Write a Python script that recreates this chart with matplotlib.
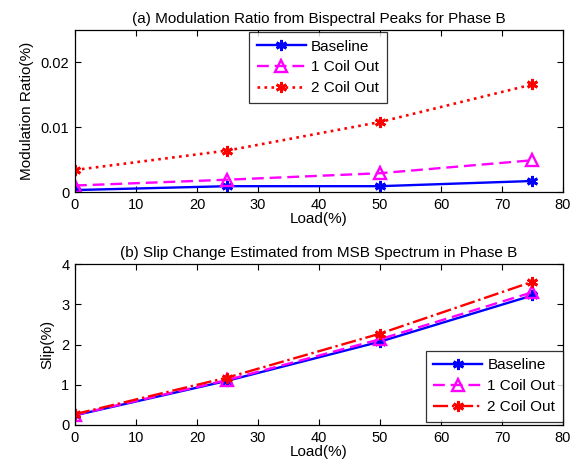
import matplotlib
matplotlib.use("Agg")
import matplotlib.pyplot as plt
from matplotlib.ticker import MultipleLocator

plt.rcParams['font.family'] = ['Liberation Sans', 'DejaVu Sans']

load = [0, 25, 50, 75]
labels = ['Baseline', '1 Coil Out', '2 Coil Out']

mod_baseline = [0.0003, 0.0009, 0.0009, 0.0017]
mod_1coil = [0.0010, 0.0019, 0.0029, 0.0049]
mod_2coil = [0.0034, 0.0064, 0.0108, 0.0166]

slip_baseline = [0.24, 1.10, 2.07, 3.22]
slip_1coil = [0.25, 1.12, 2.13, 3.30]
slip_2coil = [0.27, 1.18, 2.27, 3.56]

fig = plt.figure(figsize=(5.83, 4.72), dpi=100)
ax1 = fig.add_axes([0.1286, 0.5932, 0.837, 0.3432])
ax2 = fig.add_axes([0.1286, 0.0996, 0.837, 0.341])

star = (6, 2, 0)
tfs = 10.5
lfs = 11

def style(ax):
    ax.tick_params(direction='in', top=True, right=True, labelsize=tfs, length=4, width=0.8, pad=4)
    for s in ax.spines.values():
        s.set_linewidth(0.9)
    ax.set_xlim(0, 80)
    ax.xaxis.set_major_locator(MultipleLocator(10))

legkw = dict(fontsize=lfs, frameon=True, fancybox=False, edgecolor='black',
             handlelength=3.2, borderpad=0.5, labelspacing=0.45, handletextpad=0.35)

# Panel a
ax1.plot(load, mod_baseline, color='blue', ls='-', lw=1.7, marker=star, ms=8, mew=2, label=labels[0])
ax1.plot(load, mod_1coil, color='magenta', ls=(0, (5, 2.5)), lw=1.7, marker='^', ms=9, mfc='none', mew=1.7, label=labels[1])
ax1.plot(load, mod_2coil, color='red', ls=':', lw=1.9, marker=star, ms=8, mew=2, label=labels[2])
style(ax1)
ax1.set_ylim(0, 0.025)
ax1.set_yticks([0, 0.01, 0.02])
ax1.set_yticklabels(['0', '0.01', '0.02'])
ax1.set_title('(a) Modulation Ratio from Bispectral Peaks for Phase B', fontsize=lfs, pad=5)
ax1.set_xlabel('Load(%)', fontsize=lfs, labelpad=0)
ax1.set_ylabel('Modulation Ratio(%)', fontsize=lfs, labelpad=5)
leg1 = ax1.legend(loc='upper left', bbox_to_anchor=(0.357, 0.988), borderaxespad=0, **legkw)
leg1.get_frame().set_linewidth(0.9)

# Panel b
ax2.plot(load, slip_baseline, color='blue', ls='-', lw=1.7, marker=star, ms=8, mew=2, label=labels[0])
ax2.plot(load, slip_1coil, color='magenta', ls=(0, (5, 2.5)), lw=1.7, marker='^', ms=9, mfc='none', mew=1.7, label=labels[1])
ax2.plot(load, slip_2coil, color='red', ls='-.', lw=1.7, marker=star, ms=8, mew=2, label=labels[2])
style(ax2)
ax2.set_ylim(0, 4)
ax2.set_yticks([0, 1, 2, 3, 4])
ax2.set_title('(b) Slip Change Estimated from MSB Spectrum in Phase B', fontsize=lfs, pad=5)
ax2.set_xlabel('Load(%)', fontsize=lfs, labelpad=0)
ax2.set_ylabel('Slip(%)', fontsize=lfs, labelpad=5)
leg2 = ax2.legend(loc='lower right', bbox_to_anchor=(1.0, 0.02), borderaxespad=0, **legkw)
leg2.get_frame().set_linewidth(0.9)

fig.savefig('out.png', dpi=100)
